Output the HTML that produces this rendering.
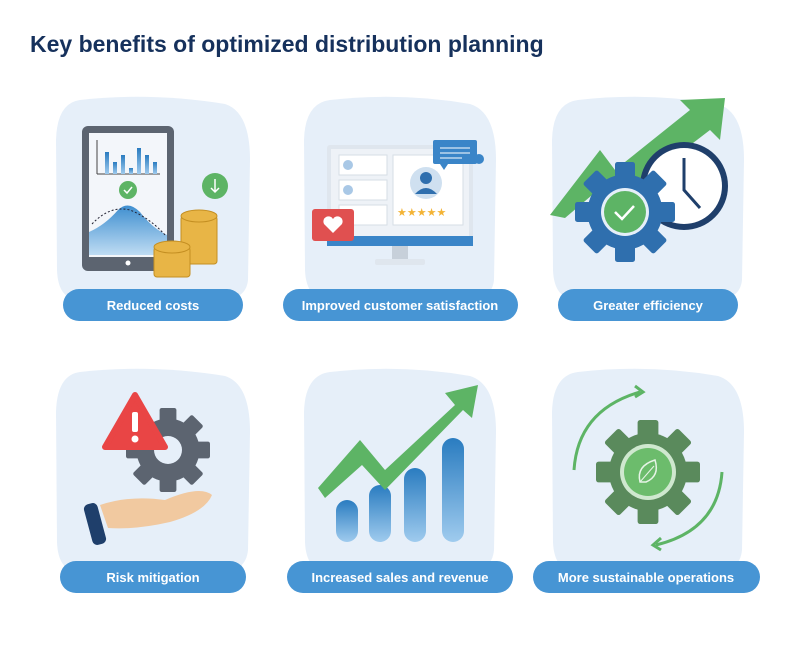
<!DOCTYPE html>
<html><head><style>
body{margin:0;background:#fff;width:800px;height:650px;overflow:hidden}
svg{display:block}
text{font-family:"Liberation Sans",sans-serif}
</style></head><body>
<svg width="800" height="650" viewBox="0 0 800 650">
<defs>
<linearGradient id="bar" x1="0" y1="0" x2="0" y2="1"><stop offset="0" stop-color="#2a7cc0"/><stop offset="1" stop-color="#9fcbee"/></linearGradient>
<linearGradient id="hill" x1="0" y1="0" x2="0" y2="1"><stop offset="0" stop-color="#3f8fd0"/><stop offset="1" stop-color="#bfdcf3"/></linearGradient>
<g id="gear8"><circle r="30"/><g><rect x="-8" y="-40" width="16" height="80" rx="2"/><rect x="-8" y="-40" width="16" height="80" rx="2" transform="rotate(45)"/><rect x="-8" y="-40" width="16" height="80" rx="2" transform="rotate(90)"/><rect x="-8" y="-40" width="16" height="80" rx="2" transform="rotate(135)"/></g></g>
</defs>
<text x="30" y="52" font-size="23" font-weight="bold" fill="#16315c">Key benefits of optimized distribution planning</text>

<g fill="#e6eff9">
<path d="M80 100 Q150 92 225 104 Q250 112 250 160 L248 280 Q246 300 220 300 L80 300 Q58 300 57 270 L56 140 Q57 103 80 100Z"/>
<path d="M330 100 Q400 92 470 104 Q496 112 496 160 L494 280 Q492 300 466 300 L330 300 Q306 300 305 270 L304 140 Q305 103 330 100Z"/>
<path d="M578 100 Q648 92 718 104 Q744 112 744 160 L742 280 Q740 300 714 300 L578 300 Q554 300 553 270 L552 140 Q553 103 578 100Z"/>
<path d="M80 372 Q150 364 225 376 Q250 384 250 432 L248 550 Q246 572 220 572 L80 572 Q58 572 57 542 L56 412 Q57 375 80 372Z"/>
<path d="M330 372 Q400 364 470 376 Q496 384 496 432 L494 550 Q492 572 466 572 L330 572 Q306 572 305 542 L304 412 Q305 375 330 372Z"/>
<path d="M578 372 Q648 364 718 376 Q744 384 744 432 L742 550 Q740 572 714 572 L578 572 Q554 572 553 542 L552 412 Q553 375 578 372Z"/>
</g>

<rect x="82" y="126" width="92" height="145" rx="6" fill="#5c6470"/>
<rect x="89" y="133" width="78" height="124" fill="#f3f6fa"/>
<circle cx="128" cy="263" r="2.5" fill="#fff"/>
<line x1="97" y1="140" x2="97" y2="174" stroke="#444" stroke-width="1"/><line x1="97" y1="174" x2="160" y2="174" stroke="#444"/>
<g fill="url(#bar)"><rect x="105" y="152" width="4" height="22"/><rect x="113" y="162" width="4" height="12"/><rect x="121" y="155" width="4" height="19"/><rect x="129" y="168" width="4" height="6"/><rect x="137" y="148" width="4" height="26"/><rect x="145" y="155" width="4" height="19"/><rect x="153" y="162" width="4" height="12"/></g>
<circle cx="128" cy="190" r="9" fill="#5db465"/><path d="M124 190 l3 3 l5 -6" stroke="#fff" fill="none" stroke-width="1.5"/>
<path d="M89 232 Q105 225 118 210 Q128 200 140 212 Q152 228 167 235 L167 255 L89 255Z" fill="url(#hill)"/>
<path d="M92 224 Q110 205 130 210 Q150 218 166 236" stroke="#223" fill="none" stroke-dasharray="2 2"/>
<circle cx="215" cy="186" r="13" fill="#5db465"/><path d="M215 179 v13 m-4 -4 l4 4 l4 -4" stroke="#fff" fill="none" stroke-width="1.5"/>
<g fill="#e8b546" stroke="#c48f22" stroke-width="1">
<rect x="181" y="216" width="36" height="48" rx="3"/><ellipse cx="199" cy="216" rx="18" ry="6"/>
<rect x="154" y="247" width="36" height="30" rx="3"/><ellipse cx="172" cy="247" rx="18" ry="6"/>
</g>

<rect x="327" y="145" width="146" height="100" rx="3" fill="#dfe6ee"/>
<rect x="331" y="149" width="138" height="88" fill="#eef2f7"/>
<rect x="327" y="236" width="146" height="10" fill="#3a85c8"/>
<rect x="392" y="246" width="16" height="14" fill="#c7d0da"/><rect x="375" y="259" width="50" height="6" rx="2" fill="#dfe6ee"/>
<g fill="#fff" stroke="#d5dde6"><rect x="339" y="155" width="48" height="20"/><rect x="339" y="180" width="48" height="20"/><rect x="339" y="205" width="48" height="20"/><rect x="393" y="155" width="70" height="70"/></g>
<g fill="#a9c8e6"><circle cx="348" cy="165" r="5"/><circle cx="348" cy="190" r="5"/><circle cx="348" cy="215" r="5"/></g>
<circle cx="426" cy="183" r="16" fill="#cfe0f0"/><circle cx="426" cy="178" r="6" fill="#2f6fae"/><path d="M415 194 Q426 182 437 194Z" fill="#2f6fae"/>
<text x="397" y="216" font-size="11" fill="#f3b335">★★★★★</text>
<rect x="433" y="140" width="44" height="24" rx="2" fill="#3a85c8"/><path d="M440 164 l4 6 l4 -6Z" fill="#3a85c8"/>
<g stroke="#fff"><line x1="440" y1="148" x2="470" y2="148"/><line x1="440" y1="153" x2="470" y2="153"/><line x1="440" y1="158" x2="462" y2="158"/></g>
<circle cx="479" cy="159" r="5" fill="#3a85c8"/>
<rect x="312" y="209" width="42" height="32" rx="3" fill="#e05050"/><path d="M333 233 l-9 -9 a5 5 0 0 1 9 -5 a5 5 0 0 1 9 5Z" fill="#fff"/>

<path d="M550 215 L600 150 L615 170 L690 110 L680 100 L725 98 L720 140 L710 130 L612 205 L598 190 L565 218Z" fill="#5db465"/>
<circle cx="684" cy="186" r="44" fill="#1f3f6b"/><circle cx="684" cy="186" r="38" fill="#fff"/>
<path d="M684 158 V190 L700 208" stroke="#1f3f6b" stroke-width="3" fill="none"/>
<use href="#gear8" fill="#2f6fae" transform="translate(625 212) scale(1.25)"/>
<circle cx="625" cy="212" r="24" fill="#e6eff9"/><circle cx="625" cy="212" r="21" fill="#5db465"/>
<path d="M615 212 l7 7 l12 -13" stroke="#fff" stroke-width="2.5" fill="none"/>

<use href="#gear8" fill="#5c6470" transform="translate(168 450) scale(1.05)"/>
<circle cx="168" cy="450" r="14" fill="#e6eff9"/>
<path d="M135 395 L165 447 L105 447Z" fill="#e94545" stroke="#e94545" stroke-width="6" stroke-linejoin="round"/>
<rect x="132" y="412" width="6" height="20" rx="2" fill="#fff"/><circle cx="135" cy="439" r="3.5" fill="#fff"/>
<path d="M100 505 Q130 495 165 500 Q200 485 212 495 Q205 512 170 522 Q135 530 108 528Z" fill="#f1c9a0"/>
<rect x="88" y="503" width="14" height="42" rx="5" fill="#1f3f6b" transform="rotate(-15 95 524)"/>

<g fill="url(#bar)">
<rect x="336" y="500" width="22" height="42" rx="11"/><rect x="369" y="485" width="22" height="57" rx="11"/><rect x="404" y="468" width="22" height="74" rx="11"/><rect x="442" y="438" width="22" height="104" rx="11"/>
</g>
<path d="M318 488 L360 440 L385 470 L455 405 L445 393 L478 385 L472 418 L463 410 L385 490 L362 465 L325 498Z" fill="#5db465"/>

<use href="#gear8" fill="#5a8a5c" transform="translate(648 472) scale(1.3)"/>
<circle cx="648" cy="472" r="28" fill="#cfe8cf"/><circle cx="648" cy="472" r="24" fill="#6cbc6c"/>
<path d="M640 482 Q636 466 655 460 Q660 476 646 482Z" stroke="#e6f4e6" fill="none" stroke-width="1.5"/><path d="M640 482 L654 466" stroke="#e6f4e6"/>
<path d="M574 470 Q578 410 640 392" stroke="#5db465" stroke-width="3" fill="none"/><path d="M635 386 l8 6 l-8 5" stroke="#5db465" stroke-width="3" fill="none"/>
<path d="M722 472 Q718 530 656 545" stroke="#5db465" stroke-width="3" fill="none"/><path d="M661 538 l-8 7 l8 5" stroke="#5db465" stroke-width="3" fill="none"/>

<g fill="#4795d4">
<rect x="63" y="289" width="180" height="32" rx="16"/>
<rect x="283" y="289" width="235" height="32" rx="16"/>
<rect x="558" y="289" width="180" height="32" rx="16"/>
<rect x="60" y="561" width="186" height="32" rx="16"/>
<rect x="287" y="561" width="226" height="32" rx="16"/>
<rect x="533" y="561" width="227" height="32" rx="16"/>
</g>
<g fill="#fff" font-size="13" font-weight="bold" text-anchor="middle">
<text x="153" y="310">Reduced costs</text>
<text x="400" y="310">Improved customer satisfaction</text>
<text x="648" y="310">Greater efficiency</text>
<text x="153" y="582">Risk mitigation</text>
<text x="400" y="582">Increased sales and revenue</text>
<text x="646" y="582">More sustainable operations</text>
</g>
</svg>
</body></html>
